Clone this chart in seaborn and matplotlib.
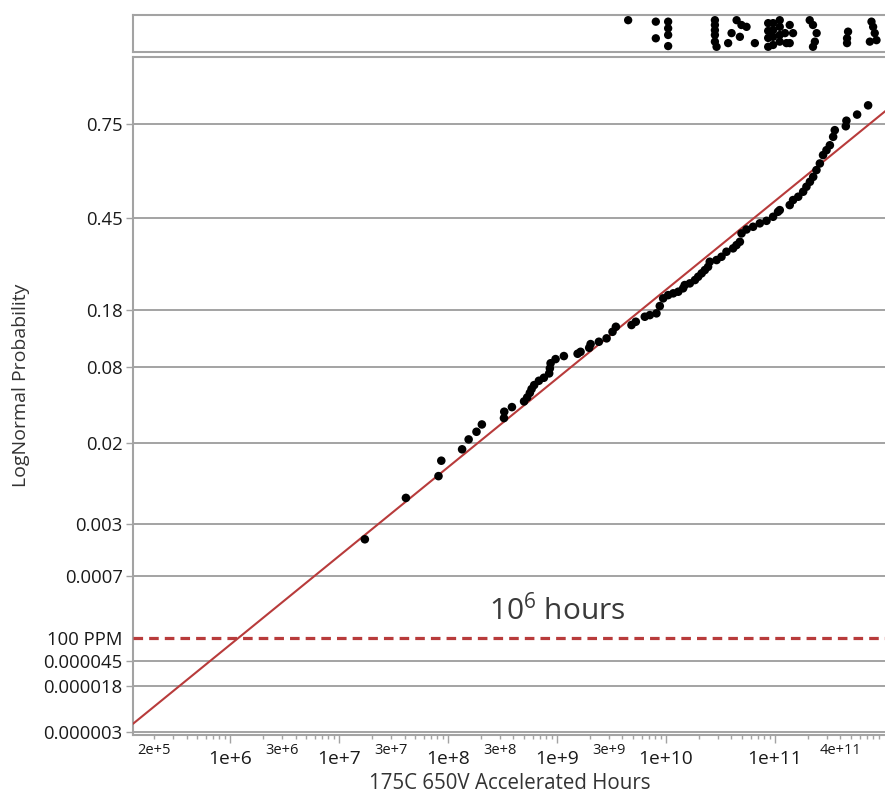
#%% IMPORTS
import math

import numpy as np
import pandas as pd
import seaborn as sns
from matplotlib import pyplot as plt
from matplotlib import ticker

#%% DATA
# failure times (hours) and their probability plotting positions
hours = [1.73e7, 4.12e7, 8.2e7, 8.7e7, 1.35e8, 1.55e8, 1.83e8, 2.05e8, 3.27e8, 3.29e8,
         3.87e8, 5.0e8, 5.34e8, 5.65e8, 5.86e8, 6.19e8, 6.84e8, 7.6e8, 8.5e8, 8.63e8,
         8.76e8, 9.73e8, 1.16e9, 1.55e9, 1.65e9, 1.98e9, 2.04e9, 2.43e9, 2.86e9, 3.24e9,
         3.48e9, 4.84e9, 5.3e9, 6.41e9, 7.13e9, 8.2e9, 8.8e9, 9.45e9, 1.05e10, 1.17e10,
         1.30e10, 1.44e10, 1.49e10, 1.66e10, 1.85e10, 1.98e10, 2.13e10, 2.28e10, 2.44e10, 2.53e10,
         2.92e10, 3.24e10, 3.6e10, 4.14e10, 4.45e10, 4.78e10, 4.95e10, 5.5e10, 6.32e10, 7.28e10,
         8.39e10, 9.64e10, 1.07e11, 1.11e11, 1.37e11, 1.47e11, 1.64e11, 1.82e11, 1.95e11, 2.10e11,
         2.25e11, 2.41e11, 2.59e11, 2.77e11, 2.98e11, 3.2e11, 3.43e11, 3.55e11, 4.48e11, 4.54e11,
         5.69e11, 7.18e11]
prob = [0.0020, 0.0058, 0.0097, 0.0137, 0.0175, 0.0215, 0.0251, 0.029, 0.0328, 0.037,
        0.0403, 0.0447, 0.048, 0.052, 0.0556, 0.0595, 0.064, 0.0673, 0.0723, 0.0784,
        0.085, 0.0907, 0.095, 0.0984, 0.1013, 0.1075, 0.1135, 0.1174, 0.1232, 0.135,
        0.1446, 0.148, 0.1546, 0.165, 0.1685, 0.1723, 0.1887, 0.207, 0.215, 0.2195,
        0.2236, 0.2324, 0.241, 0.2455, 0.2546, 0.2637, 0.2733, 0.2827, 0.2922, 0.3072,
        0.3124, 0.3224, 0.338, 0.3486, 0.359, 0.3696, 0.397, 0.410, 0.419, 0.4305,
        0.439, 0.4527, 0.4697, 0.4753, 0.4925, 0.5096, 0.521, 0.538, 0.555, 0.5716,
        0.588, 0.6105, 0.632, 0.6587, 0.674, 0.689, 0.714, 0.733, 0.744, 0.759,
        0.775, 0.798]

# dot strip above the plot
strip_hours = [4.51e9, 8.09e9, 8.09e9, 1.05e10, 1.05e10, 1.05e10, 1.05e10,
               2.82e10, 2.82e10, 2.82e10, 2.82e10, 2.82e10, 2.92e10, 3.73e10, 4.01e10,
               4.46e10, 4.94e10, 5.50e10, 4.78e10, 6.56e10,
               8.69e10, 8.69e10, 8.69e10, 8.69e10, 9.64e10, 9.64e10, 9.64e10, 9.64e10,
               1.11e11, 1.11e11, 1.11e11, 1.11e11, 1.24e11, 1.28e11, 1.37e11, 1.47e11, 1.37e11,
               2.09e11, 2.24e11, 2.42e11, 2.33e11, 2.24e11, 4.70e11, 4.60e11, 4.60e11,
               7.71e11, 7.98e11, 8.26e11, 7.45e11, 8.57e11]
strip_level = [0.86, 0.82, 0.37, 0.82, 0.64, 0.46, 0.16,
               0.86, 0.73, 0.59, 0.46, 0.28, 0.14, 0.24, 0.51,
               0.86, 0.73, 0.68, 0.41, 0.24,
               0.78, 0.57, 0.38, 0.14, 0.78, 0.59, 0.41, 0.19,
               0.86, 0.68, 0.46, 0.28, 0.51, 0.24, 0.73, 0.51, 0.24,
               0.86, 0.73, 0.51, 0.28, 0.14, 0.55, 0.37, 0.24,
               0.82, 0.68, 0.51, 0.28, 0.32]

# lognormal fit, in log10(hours)
fit_mu = 10.98
fit_sigma = 1.317
ppm_limit = 1e-4

prob_ticks = [0.75, 0.45, 0.18, 0.08, 0.02, 0.003, 0.0007, 0.0001, 0.000045, 0.000018, 0.000003]
prob_labels = ['0.75', '0.45', '0.18', '0.08', '0.02', '0.003', '0.0007', '100 PPM',
               '0.000045', '0.000018', '0.000003']
major_x = [1e6, 1e7, 1e8, 1e9, 1e10, 1e11]
major_x_labels = ['1e+6', '1e+7', '1e+8', '1e+9', '1e+10', '1e+11']
minor_x = [2e5, 3e6, 3e7, 3e8, 3e9, 4e11]
minor_x_labels = ['2e+5', '3e+6', '3e+7', '3e+8', '3e+9', '4e+11']

x_range = (1.29e5, 1.07e12)
p_range = (2.65e-6, 0.894)

#%% NORMAL PROBABILITY SCALE
_erf = np.vectorize(math.erf, otypes=[float])
z_grid = np.linspace(-7, 7, 28001)
p_grid = 0.5 * (1 + _erf(z_grid / math.sqrt(2)))


def norm_cdf(z):
    return 0.5 * (1 + _erf(np.asarray(z, dtype=float) / math.sqrt(2)))


def norm_ppf(p):
    return np.interp(np.asarray(p, dtype=float), p_grid, z_grid)


#%% PLOT
sns.set_style('white')
plt.rcParams['font.family'] = ['Open Sans', 'DejaVu Sans']
plt.rcParams['mathtext.default'] = 'regular'

grey = '#a3a3a3'
red = '#b83b3b'

fig = plt.figure(figsize=(8.85, 7.94), dpi=100)
ax = fig.add_axes([133 / 885, 59 / 794, 754 / 885, 678 / 794])
ax_top = fig.add_axes([133 / 885, 742 / 794, 754 / 885, 37 / 794])

df = pd.DataFrame({'hours': hours, 'prob': prob})
sns.scatterplot(data=df, x='hours', y='prob', ax=ax, color='black', s=38,
                edgecolor='none', zorder=4)

fit_x = np.logspace(np.log10(x_range[0]), np.log10(x_range[1]), 200)
fit_df = pd.DataFrame({'hours': fit_x,
                       'prob': norm_cdf((np.log10(fit_x) - fit_mu) / fit_sigma)})
sns.lineplot(data=fit_df, x='hours', y='prob', ax=ax, color=red, lw=1.5,
             estimator=None, zorder=3)
ax.axhline(ppm_limit, color=red, lw=2.3, ls=(0, (3.0, 1.9)), zorder=3)

ax.set_xscale('log')
ax.set_yscale('function', functions=(norm_ppf, norm_cdf))
ax.set_xlim(*x_range)
ax.set_ylim(*p_range)

ax.set_yticks(prob_ticks)
ax.set_yticklabels(prob_labels)
ax.yaxis.set_minor_locator(ticker.NullLocator())
ax.grid(True, axis='y', color=grey, lw=1.4)
ax.grid(False, axis='x')
ax.tick_params(axis='y', length=5, width=1, color=grey, labelsize=13.3,
               labelcolor='#1a1a1a', pad=2.5, left=True)
for tick, gl, lab in zip(ax.yaxis.get_major_ticks(), ax.get_ygridlines(), prob_labels):
    if lab == '100 PPM':
        tick.tick1line.set_visible(False)
        gl.set_visible(False)

ax.set_xticks(major_x)
ax.set_xticklabels(major_x_labels)
all_minor = [m * 10.0 ** e for e in range(5, 12) for m in range(2, 10)]
ax.xaxis.set_minor_locator(ticker.FixedLocator(all_minor))


def minor_label(v, pos):
    for mv, ml in zip(minor_x, minor_x_labels):
        if abs(v / mv - 1) < 1e-6:
            return ml
    return ''


ax.xaxis.set_minor_formatter(ticker.FuncFormatter(minor_label))
ax.tick_params(axis='x', which='major', length=6, width=1, color=grey,
               labelsize=13.8, labelcolor='#1a1a1a', pad=5, bottom=True)
ax.tick_params(axis='x', which='minor', length=3, width=1, color=grey,
               labelsize=10.5, labelcolor='#1a1a1a', pad=3, bottom=True)

for side in ['top', 'left', 'bottom']:
    ax.spines[side].set_color(grey)
    ax.spines[side].set_linewidth(1.5)
ax.spines['right'].set_visible(False)

ax.set_xlabel('175C 650V Accelerated Hours', fontsize=14.8, color='#333333')
ax.xaxis.set_label_coords(0.5, -0.056)
ax.set_ylabel('LogNormal Probability', fontsize=14, color='#333333')
ax.yaxis.set_label_coords(-0.137, 0.516)

ax.text(0.5625, 0.184, '10$^{6}$ hours', transform=ax.transAxes, fontsize=21.5,
        color='#3a3a3a', ha='center', va='center')

# dot strip
strip_df = pd.DataFrame({'hours': strip_hours, 'level': strip_level})
sns.scatterplot(data=strip_df, x='hours', y='level', ax=ax_top, color='black',
                s=36, edgecolor='none', clip_on=False)
ax_top.set_xscale('log')
ax_top.set_xlim(*x_range)
ax_top.set_ylim(0, 1)
ax_top.set_xticks([])
ax_top.set_yticks([])
ax_top.xaxis.set_minor_locator(ticker.NullLocator())
ax_top.set_xlabel('')
ax_top.set_ylabel('')
for side in ['top', 'left', 'bottom']:
    ax_top.spines[side].set_color(grey)
    ax_top.spines[side].set_linewidth(1.5)
ax_top.spines['right'].set_visible(False)

fig.savefig('out.png', dpi=100)
